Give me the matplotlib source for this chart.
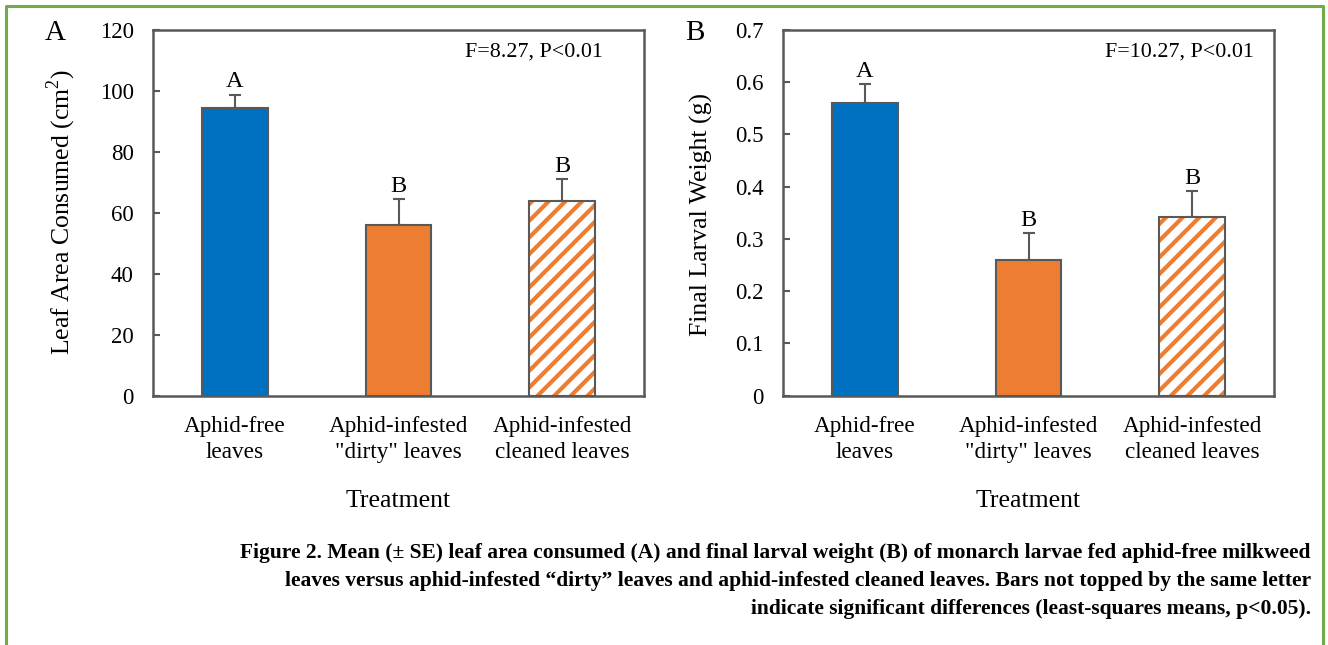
import matplotlib
matplotlib.use("Agg")
import matplotlib.pyplot as plt
from matplotlib.lines import Line2D
import numpy as np

# ------- data -------
treatments = ['Aphid-free\nleaves', 'Aphid-infested\n"dirty" leaves', 'Aphid-infested\ncleaned leaves']

leaf_area = [94.5, 56.1, 63.8]
leaf_area_se = [4.3, 8.5, 7.4]
leaf_letters = ['A', 'B', 'B']
leaf_ticks = [0, 20, 40, 60, 80, 100, 120]
leaf_ticklabels = ['0', '20', '40', '60', '80', '100', '120']

weight = [0.560, 0.259, 0.341]
weight_se = [0.036, 0.052, 0.051]
weight_letters = ['A', 'B', 'B']
weight_ticks = [0, 0.1, 0.2, 0.3, 0.4, 0.5, 0.6, 0.7]
weight_ticklabels = ['0', '0.1', '0.2', '0.3', '0.4', '0.5', '0.6', '0.7']

stats_A = 'F=8.27, P<0.01'
stats_B = 'F=10.27, P<0.01'

caption = ['Figure 2. Mean (\u00b1 SE) leaf area consumed (A) and final larval weight (B) of monarch larvae fed aphid-free milkweed',
           'leaves versus aphid-infested \u201cdirty\u201d leaves and aphid-infested cleaned leaves. Bars not topped by the same letter',
           'indicate significant differences (least-squares means, p<0.05).']

# ------- style -------
blue = '#0070C0'
orange = '#ED7D31'
grey = '#595959'
green = '#70AD47'

plt.rcParams['font.family'] = 'Liberation Serif'
plt.rcParams['mathtext.fontset'] = 'custom'
plt.rcParams['mathtext.rm'] = 'Liberation Serif'
plt.rcParams['hatch.linewidth'] = 3.0

W, H = 1328, 645
fig = plt.figure(figsize=(W/100, H/100), dpi=100)


def panel(rect, vals, se, letters, ticks, ticklabels, ylabel, stats, stats_x, tag, tag_x):
    ax = fig.add_axes(rect)
    x = np.arange(len(vals))
    ax.bar(x[:2], vals[:2], width=0.4, color=[blue, orange],
           edgecolor=grey, linewidth=1.5, zorder=2)
    # striped bar: orange hatch first, grey outline on top
    ax.bar(x[2], vals[2], width=0.4, color='white', hatch='//',
           edgecolor=orange, linewidth=0, zorder=2)
    ax.bar(x[2], vals[2], width=0.4, fill=False,
           edgecolor=grey, linewidth=1.5, zorder=3)
    ax.errorbar(x, vals, yerr=[np.zeros(len(se)), se], fmt='none',
                ecolor=grey, elinewidth=1.5, capsize=4.5, capthick=1.5, zorder=1)
    for xi, v, s, l in zip(x, vals, se, letters):
        ax.annotate(l, (xi, v + s), xytext=(0, 1.5), textcoords='offset points',
                    ha='center', va='bottom', fontsize=17.5)

    ax.set_xlim(-0.5, 2.5)
    ax.set_ylim(ticks[0], ticks[-1])
    ax.set_yticks(ticks)
    ax.set_yticklabels(ticklabels)
    ax.set_xticks(x)
    ax.set_xticklabels(treatments, linespacing=1.3)
    ax.tick_params(axis='y', direction='in', length=5, width=1.5, color=grey,
                   pad=14, labelsize=16.5)
    ax.tick_params(axis='x', length=0, pad=15, labelsize=16.7)
    for sp in ax.spines.values():
        sp.set_color(grey)
        sp.set_linewidth(1.8)
    ax.set_ylabel(ylabel, fontsize=18.5)
    ax.set_xlabel('Treatment', fontsize=18.5, labelpad=19)
    ax.text(stats_x, 0.94, stats, transform=ax.transAxes, ha='right',
            va='center', fontsize=15.8)
    fig.text(tag_x, (H - 33) / H, tag, ha='center', va='center', fontsize=21)
    return ax


axA = panel([153/W, (H-395.5)/H, 491/W, 365.5/H], leaf_area, leaf_area_se, leaf_letters,
            leaf_ticks, leaf_ticklabels, 'Leaf Area Consumed (cm$^2$)', stats_A, 0.917, 'A', 55/W)
axB = panel([783/W, (H-395.5)/H, 491/W, 365.5/H], weight, weight_se, weight_letters,
            weight_ticks, weight_ticklabels, 'Final Larval Weight (g)', stats_B, 0.959, 'B', 695/W)
axA.yaxis.set_label_coords(78/W, (H - 212)/H, transform=fig.transFigure)
axB.yaxis.set_label_coords(713/W, (H - 215)/H, transform=fig.transFigure)

# caption, right-aligned under the panels
for i, line in enumerate(caption):
    fig.text(1311/W, (H - 553 - 28*i)/H, line, ha='right', va='center',
             fontsize=15.5, fontweight='bold')

# green frame on left, top and right
fig.add_artist(Line2D([6/W, 6/W, 1323/W, 1323/W], [0, (H-6)/H, (H-6)/H, 0],
                      transform=fig.transFigure, color=green, linewidth=2.2))

fig.savefig('out.png', dpi=100)
